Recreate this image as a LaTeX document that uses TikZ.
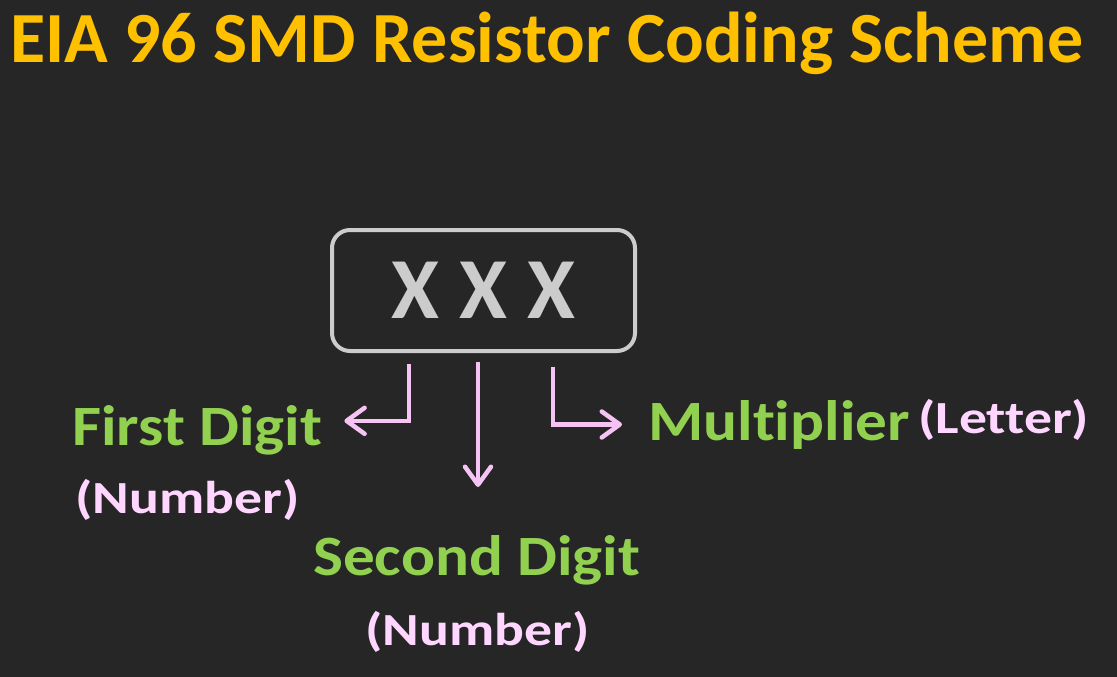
\documentclass[tikz,border=0pt]{standalone}
\usepackage{fontspec}
\setmainfont[Ligatures=NoCommon]{Carlito}
\newfontfamily\partfont[Ligatures=NoCommon,FakeStretch=1.11]{Carlito}
\newfontfamily\kindfont[Ligatures=NoCommon,FakeStretch=1.21]{Carlito}
\usetikzlibrary{arrows.meta}
\definecolor{bg}{RGB}{38,38,38}
\definecolor{cTitle}{RGB}{255,192,0}
\definecolor{cGreen}{RGB}{146,208,80}
\definecolor{cPink}{RGB}{255,214,255}
\definecolor{cArrow}{RGB}{245,196,245}
\definecolor{cGray}{RGB}{204,204,204}
\tikzset{
    title/.style={font={\fontsize{72}{76}\selectfont\bfseries},text=cTitle,anchor=base west,inner sep=0pt},
    codebox/.style={draw=cGray,line width=4pt,rounded corners=18pt,
        minimum width=303pt,minimum height=121pt,
        font={\fontsize{87}{90}\selectfont\bfseries},text=cGray},
    part/.style={font={\partfont\fontsize{57}{60}\selectfont\bfseries},text=cGreen,anchor=base west,inner sep=0pt},
    kind/.style={font={\kindfont\fontsize{46}{50}\selectfont\bfseries},text=cPink,anchor=base west,inner sep=0pt},
    conn/.style={draw=cArrow,line width=4.5pt,-{Straight Barb[length=18pt,width=26pt,round]}},
}

\begin{document}
\begin{tikzpicture}[x=1pt,y=-1pt]
    \fill[bg] (0,0) rectangle (1117,677);
    \useasboundingbox (0,0) rectangle (1117,677);

    \node[title] (head) at (10,63) {EIA 96 SMD Resistor Coding Scheme};

    \node[codebox] (code) at (483.5,290.5) {X X X};

    % labels
    \node[part] (first) at (72,445) {First Digit};
    \node[kind] (firstkind) at (75,513) {(Number)};
    \node[part] (second) at (313,575) {Second Digit};
    \node[kind] (secondkind) at (365,645) {(Number)};
    \node[part] (mult) at (648,440) {Multiplier};
    \node[kind] (multkind) at (918,433) {(Letter)};

    % arrows
    \draw[conn] ([xshift=-74.5pt,yshift=-11pt]code.south) |- ([xshift=22pt,yshift=9pt]first.east);
    \draw[conn] ([xshift=-5.5pt,yshift=-9pt]code.south) -- ([xshift=-5.5pt,yshift=-134pt]code.south);
    \draw[conn] ([xshift=69.5pt,yshift=-14pt]code.south) |- ([xshift=-26pt]mult.west);
\end{tikzpicture}
\end{document}
